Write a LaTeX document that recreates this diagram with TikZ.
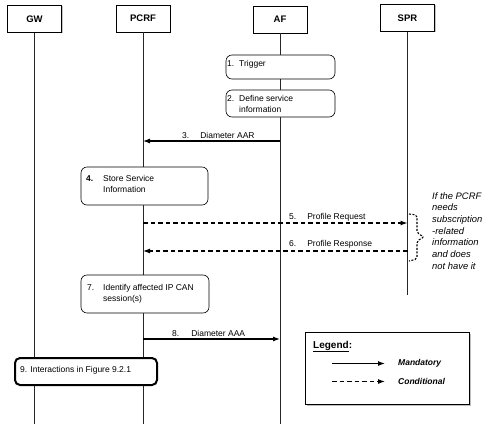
\documentclass[tikz,border=0pt]{standalone}
\usepackage{fontspec}
\setmainfont{Liberation Sans}
\usetikzlibrary{arrows.meta,shadows}
\newcommand{\stepno}[3][12pt]{\begin{tabular}{@{}p{#1}@{}l@{}}#2 & #3\end{tabular}}

\begin{document}
\begin{tikzpicture}[x=1pt,y=-1pt,
  entity/.style={draw,fill=white,line width=0.6pt,minimum width=54pt,minimum height=27pt,inner sep=0pt,font=\fontsize{9.5}{11}\selectfont\bfseries,drop shadow={shadow xshift=1pt,shadow yshift=-1pt,fill=black!45}},
  lifeline/.style={line width=0.6pt,black!85},
  stepbox/.style={draw,fill=white,rounded corners=6pt,line width=0.6pt,inner sep=0pt},
  steptext/.style={anchor=north west,inner sep=0pt,font=\fontsize{8.5}{11.5}\selectfont},
  msglabel/.style={anchor=base west,inner sep=0pt,font=\fontsize{8.5}{10}\selectfont},
  mandatory/.style={line width=1.1pt,-{Latex[length=7pt,width=5pt]}},
  conditional/.style={line width=1.2pt,dash pattern=on 4.5pt off 3pt,-{Latex[length=7pt,width=5pt]}}]
\useasboundingbox (0,0) rectangle (502,425);

\node[entity] (gw) at (34.5,19) {GW};
\node[entity] (pcrf) at (143,18.5) {PCRF};
\node[entity] (af) at (280,19.5) {AF};
\node[entity] (spr) at (407.5,18) {SPR};

\coordinate (bottom) at (0,424);
\coordinate (sprend) at (0,295);
\draw[lifeline] (gw.south) -- (gw.south |- bottom);
\draw[lifeline] (pcrf.south) -- (pcrf.south |- bottom);
\draw[lifeline] (af.south) -- (af.south |- bottom);
\draw[lifeline] (spr.south) -- (spr.south |- sprend);

\node[stepbox,minimum width=109pt,minimum height=24pt] (s1) at (280.5,67) {};
\node[steptext] (t1) at (227,58) {\stepno{1.}{Trigger}};
\node[stepbox,minimum width=109pt,minimum height=27pt] (s2) at (280.5,103.5) {};
\node[steptext] (t2) at (227,93) {\stepno{2.}{Define service\\ & information}};

\coordinate (m3) at (0,141);
\draw[mandatory] (af |- m3) -- (pcrf |- m3);
\node[msglabel] (l3) at (182,138) {3.\hspace{11pt}Diameter AAR};

\node[stepbox,minimum width=127pt,minimum height=38pt] (s4) at (144.5,186) {};
\node[steptext] (t4) at (86,173) {\stepno[17pt]{\textbf{4.}}{Store Service\\ & Information}};

\coordinate (m5) at (0,223);
\coordinate (m6) at (0,251);
\draw[conditional] (pcrf |- m5) -- (spr |- m5);
\node[msglabel] (l5) at (289,219) {5.\hspace{11pt}Profile Request};
\draw[conditional] (spr |- m6) -- (pcrf |- m6);
\node[msglabel] (l6) at (289,246) {6.\hspace{11pt}Profile Response};

\draw[line width=1.1pt,dash pattern=on 2pt off 1.5pt,rounded corners=2pt] (409,214) -- (417,215) -- (417,233) -- (424,237) -- (417,241) -- (417,259) -- (409,261);
\node[anchor=north west,inner sep=0pt,align=left,font=\fontsize{9.4}{11.7}\selectfont\itshape] (note) at (432,192) {If the PCRF\\needs\\subscription\\-related\\information\\and does\\not have it};

\node[stepbox,minimum width=128pt,minimum height=38pt] (s7) at (145,294) {};
\node[steptext] (t7) at (87,282) {\stepno[16pt]{7.}{Identify affected IP CAN\\ & session(s)}};

\coordinate (m8) at (0,339);
\draw[mandatory] (pcrf |- m8) -- (af |- m8);
\node[msglabel] (l8) at (172,336) {8.\hspace{12pt}Diameter AAA};

\node[stepbox,line width=2pt,rounded corners=5pt,minimum width=142pt,minimum height=27pt] (s9) at (86,371.5) {};
\node[msglabel,anchor=west] (t9) at (20,370.5) {9. Interactions in Figure 9.2.1};

\node[draw,fill=white,line width=0.8pt,minimum width=164pt,minimum height=72pt,drop shadow={shadow xshift=2pt,shadow yshift=-2pt,fill=black!50}] (legend) at (387,368) {};
\node[anchor=base west,inner sep=0pt,font=\fontsize{10}{12}\selectfont\bfseries] (lgtitle) at (313,348) {\underline{Legend}:};
\coordinate (ma) at (332,363.5);
\coordinate (mb) at (385,363.5);
\coordinate (ca) at (332,381.5);
\coordinate (cb) at (385,381.5);
\draw[mandatory] (ma) -- (mb);
\draw[conditional] (ca) -- (cb);
\node[anchor=west,inner sep=0pt,font=\fontsize{8.5}{10}\selectfont\bfseries\itshape] (lgm) at (398,363.5) {Mandatory};
\node[anchor=west,inner sep=0pt,font=\fontsize{8.5}{10}\selectfont\bfseries\itshape] (lgc) at (398,381.5) {Conditional};

\end{tikzpicture}
\end{document}
